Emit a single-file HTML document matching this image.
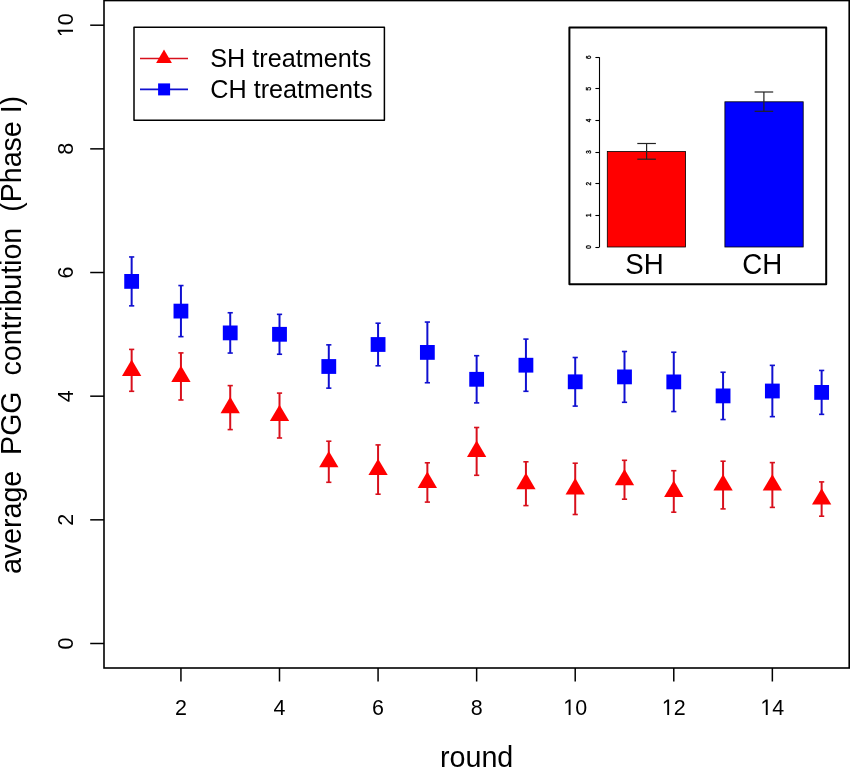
<!DOCTYPE html><html><head><meta charset="utf-8"><style>html,body{margin:0;padding:0;background:#fff;}svg{display:block;will-change:transform;}text{font-family:"Liberation Sans", sans-serif;fill:#000;}</style></head><body>
<svg width="850" height="767" viewBox="0 0 850 767">
<rect x="0" y="0" width="850" height="767" fill="#fff"/>
<rect x="104" y="0.55" width="745.2" height="667.45" fill="none" stroke="#000" stroke-width="1.6"/>
<line x1="90.2" y1="643.50" x2="104" y2="643.50" stroke="#000" stroke-width="1.5"/>
<g transform="translate(73.00 643.50) rotate(-90) scale(1 1.035)"><text x="-5.979" y="0" font-size="21.5">0</text></g>
<line x1="90.2" y1="519.84" x2="104" y2="519.84" stroke="#000" stroke-width="1.5"/>
<g transform="translate(73.00 519.84) rotate(-90) scale(1 1.035)"><text x="-5.979" y="0" font-size="21.5">2</text></g>
<line x1="90.2" y1="396.18" x2="104" y2="396.18" stroke="#000" stroke-width="1.5"/>
<g transform="translate(73.00 396.18) rotate(-90) scale(1 1.035)"><text x="-5.979" y="0" font-size="21.5">4</text></g>
<line x1="90.2" y1="272.52" x2="104" y2="272.52" stroke="#000" stroke-width="1.5"/>
<g transform="translate(73.00 272.52) rotate(-90) scale(1 1.035)"><text x="-5.979" y="0" font-size="21.5">6</text></g>
<line x1="90.2" y1="148.86" x2="104" y2="148.86" stroke="#000" stroke-width="1.5"/>
<g transform="translate(73.00 148.86) rotate(-90) scale(1 1.035)"><text x="-5.979" y="0" font-size="21.5">8</text></g>
<line x1="90.2" y1="25.20" x2="104" y2="25.20" stroke="#000" stroke-width="1.5"/>
<g transform="translate(73.00 25.20) rotate(-90) scale(1 1.035)"><path transform="translate(-11.957 0) scale(0.01050 -0.01050)" d="M515 0L515 1237L197 1010L197 1180L530 1409L696 1409L696 0Z" fill="#000"/><text x="0.000" y="0" font-size="21.5">0</text></g>
<line x1="180.94" y1="668" x2="180.94" y2="681.5" stroke="#000" stroke-width="1.5"/>
<g transform="translate(180.94 714.90) scale(1 1.035)"><text x="-5.979" y="0" font-size="21.5">2</text></g>
<line x1="279.50" y1="668" x2="279.50" y2="681.5" stroke="#000" stroke-width="1.5"/>
<g transform="translate(279.50 714.90) scale(1 1.035)"><text x="-5.979" y="0" font-size="21.5">4</text></g>
<line x1="378.07" y1="668" x2="378.07" y2="681.5" stroke="#000" stroke-width="1.5"/>
<g transform="translate(378.07 714.90) scale(1 1.035)"><text x="-5.979" y="0" font-size="21.5">6</text></g>
<line x1="476.64" y1="668" x2="476.64" y2="681.5" stroke="#000" stroke-width="1.5"/>
<g transform="translate(476.64 714.90) scale(1 1.035)"><text x="-5.979" y="0" font-size="21.5">8</text></g>
<line x1="575.21" y1="668" x2="575.21" y2="681.5" stroke="#000" stroke-width="1.5"/>
<g transform="translate(575.21 714.90) scale(1 1.035)"><path transform="translate(-11.957 0) scale(0.01050 -0.01050)" d="M515 0L515 1237L197 1010L197 1180L530 1409L696 1409L696 0Z" fill="#000"/><text x="0.000" y="0" font-size="21.5">0</text></g>
<line x1="673.78" y1="668" x2="673.78" y2="681.5" stroke="#000" stroke-width="1.5"/>
<g transform="translate(673.78 714.90) scale(1 1.035)"><path transform="translate(-11.957 0) scale(0.01050 -0.01050)" d="M515 0L515 1237L197 1010L197 1180L530 1409L696 1409L696 0Z" fill="#000"/><text x="0.000" y="0" font-size="21.5">2</text></g>
<line x1="772.35" y1="668" x2="772.35" y2="681.5" stroke="#000" stroke-width="1.5"/>
<g transform="translate(772.35 714.90) scale(1 1.035)"><path transform="translate(-11.957 0) scale(0.01050 -0.01050)" d="M515 0L515 1237L197 1010L197 1180L530 1409L696 1409L696 0Z" fill="#000"/><text x="0.000" y="0" font-size="21.5">4</text></g>
<text x="476.65" y="767.4" text-anchor="middle" font-size="28.7">round</text>
<text transform="translate(21.3 335.0) rotate(-90) scale(1 1.03)" text-anchor="middle" font-size="28.6" xml:space="preserve">average  PGG  contribution  (Phase I)</text>
<line x1="131.65" y1="256.95" x2="131.65" y2="305.85" stroke="#1010d0" stroke-width="2"/><line x1="129.05" y1="256.95" x2="134.25" y2="256.95" stroke="#1010d0" stroke-width="1.6"/><line x1="129.05" y1="305.85" x2="134.25" y2="305.85" stroke="#1010d0" stroke-width="1.6"/>
<rect x="124.25" y="274.00" width="14.8" height="14.8" fill="#0000ff"/>
<line x1="180.94" y1="285.55" x2="180.94" y2="336.65" stroke="#1010d0" stroke-width="2"/><line x1="178.34" y1="285.55" x2="183.53" y2="285.55" stroke="#1010d0" stroke-width="1.6"/><line x1="178.34" y1="336.65" x2="183.53" y2="336.65" stroke="#1010d0" stroke-width="1.6"/>
<rect x="173.53" y="303.70" width="14.8" height="14.8" fill="#0000ff"/>
<line x1="230.22" y1="312.75" x2="230.22" y2="353.05" stroke="#1010d0" stroke-width="2"/><line x1="227.62" y1="312.75" x2="232.82" y2="312.75" stroke="#1010d0" stroke-width="1.6"/><line x1="227.62" y1="353.05" x2="232.82" y2="353.05" stroke="#1010d0" stroke-width="1.6"/>
<rect x="222.82" y="325.50" width="14.8" height="14.8" fill="#0000ff"/>
<line x1="279.50" y1="314.35" x2="279.50" y2="354.25" stroke="#1010d0" stroke-width="2"/><line x1="276.90" y1="314.35" x2="282.11" y2="314.35" stroke="#1010d0" stroke-width="1.6"/><line x1="276.90" y1="354.25" x2="282.11" y2="354.25" stroke="#1010d0" stroke-width="1.6"/>
<rect x="272.11" y="326.90" width="14.8" height="14.8" fill="#0000ff"/>
<line x1="328.79" y1="344.85" x2="328.79" y2="388.15" stroke="#1010d0" stroke-width="2"/><line x1="326.19" y1="344.85" x2="331.39" y2="344.85" stroke="#1010d0" stroke-width="1.6"/><line x1="326.19" y1="388.15" x2="331.39" y2="388.15" stroke="#1010d0" stroke-width="1.6"/>
<rect x="321.39" y="359.10" width="14.8" height="14.8" fill="#0000ff"/>
<line x1="378.07" y1="323.20" x2="378.07" y2="365.80" stroke="#1010d0" stroke-width="2"/><line x1="375.47" y1="323.20" x2="380.68" y2="323.20" stroke="#1010d0" stroke-width="1.6"/><line x1="375.47" y1="365.80" x2="380.68" y2="365.80" stroke="#1010d0" stroke-width="1.6"/>
<rect x="370.68" y="337.10" width="14.8" height="14.8" fill="#0000ff"/>
<line x1="427.36" y1="322.05" x2="427.36" y2="382.75" stroke="#1010d0" stroke-width="2"/><line x1="424.76" y1="322.05" x2="429.96" y2="322.05" stroke="#1010d0" stroke-width="1.6"/><line x1="424.76" y1="382.75" x2="429.96" y2="382.75" stroke="#1010d0" stroke-width="1.6"/>
<rect x="419.96" y="345.00" width="14.8" height="14.8" fill="#0000ff"/>
<line x1="476.64" y1="355.70" x2="476.64" y2="402.90" stroke="#1010d0" stroke-width="2"/><line x1="474.04" y1="355.70" x2="479.25" y2="355.70" stroke="#1010d0" stroke-width="1.6"/><line x1="474.04" y1="402.90" x2="479.25" y2="402.90" stroke="#1010d0" stroke-width="1.6"/>
<rect x="469.25" y="371.90" width="14.8" height="14.8" fill="#0000ff"/>
<line x1="525.93" y1="339.10" x2="525.93" y2="391.30" stroke="#1010d0" stroke-width="2"/><line x1="523.33" y1="339.10" x2="528.53" y2="339.10" stroke="#1010d0" stroke-width="1.6"/><line x1="523.33" y1="391.30" x2="528.53" y2="391.30" stroke="#1010d0" stroke-width="1.6"/>
<rect x="518.53" y="357.80" width="14.8" height="14.8" fill="#0000ff"/>
<line x1="575.21" y1="357.50" x2="575.21" y2="406.10" stroke="#1010d0" stroke-width="2"/><line x1="572.61" y1="357.50" x2="577.81" y2="357.50" stroke="#1010d0" stroke-width="1.6"/><line x1="572.61" y1="406.10" x2="577.81" y2="406.10" stroke="#1010d0" stroke-width="1.6"/>
<rect x="567.81" y="374.40" width="14.8" height="14.8" fill="#0000ff"/>
<line x1="624.50" y1="351.50" x2="624.50" y2="402.30" stroke="#1010d0" stroke-width="2"/><line x1="621.90" y1="351.50" x2="627.10" y2="351.50" stroke="#1010d0" stroke-width="1.6"/><line x1="621.90" y1="402.30" x2="627.10" y2="402.30" stroke="#1010d0" stroke-width="1.6"/>
<rect x="617.10" y="369.50" width="14.8" height="14.8" fill="#0000ff"/>
<line x1="673.78" y1="352.25" x2="673.78" y2="411.55" stroke="#1010d0" stroke-width="2"/><line x1="671.18" y1="352.25" x2="676.38" y2="352.25" stroke="#1010d0" stroke-width="1.6"/><line x1="671.18" y1="411.55" x2="676.38" y2="411.55" stroke="#1010d0" stroke-width="1.6"/>
<rect x="666.38" y="374.50" width="14.8" height="14.8" fill="#0000ff"/>
<line x1="723.07" y1="372.25" x2="723.07" y2="419.55" stroke="#1010d0" stroke-width="2"/><line x1="720.47" y1="372.25" x2="725.67" y2="372.25" stroke="#1010d0" stroke-width="1.6"/><line x1="720.47" y1="419.55" x2="725.67" y2="419.55" stroke="#1010d0" stroke-width="1.6"/>
<rect x="715.67" y="388.50" width="14.8" height="14.8" fill="#0000ff"/>
<line x1="772.35" y1="365.35" x2="772.35" y2="416.65" stroke="#1010d0" stroke-width="2"/><line x1="769.75" y1="365.35" x2="774.95" y2="365.35" stroke="#1010d0" stroke-width="1.6"/><line x1="769.75" y1="416.65" x2="774.95" y2="416.65" stroke="#1010d0" stroke-width="1.6"/>
<rect x="764.95" y="383.60" width="14.8" height="14.8" fill="#0000ff"/>
<line x1="821.64" y1="370.45" x2="821.64" y2="414.35" stroke="#1010d0" stroke-width="2"/><line x1="819.04" y1="370.45" x2="824.24" y2="370.45" stroke="#1010d0" stroke-width="1.6"/><line x1="819.04" y1="414.35" x2="824.24" y2="414.35" stroke="#1010d0" stroke-width="1.6"/>
<rect x="814.24" y="385.00" width="14.8" height="14.8" fill="#0000ff"/>
<line x1="131.65" y1="349.40" x2="131.65" y2="391.30" stroke="#d8101c" stroke-width="2"/><line x1="129.05" y1="349.40" x2="134.25" y2="349.40" stroke="#d8101c" stroke-width="1.6"/><line x1="129.05" y1="391.30" x2="134.25" y2="391.30" stroke="#d8101c" stroke-width="1.6"/>
<polygon points="131.65,359.48 141.30,375.88 122.00,375.88" fill="#ff0000"/>
<line x1="180.94" y1="352.90" x2="180.94" y2="400.00" stroke="#d8101c" stroke-width="2"/><line x1="178.34" y1="352.90" x2="183.53" y2="352.90" stroke="#d8101c" stroke-width="1.6"/><line x1="178.34" y1="400.00" x2="183.53" y2="400.00" stroke="#d8101c" stroke-width="1.6"/>
<polygon points="180.94,365.58 190.59,381.98 171.28,381.98" fill="#ff0000"/>
<line x1="230.22" y1="385.60" x2="230.22" y2="429.60" stroke="#d8101c" stroke-width="2"/><line x1="227.62" y1="385.60" x2="232.82" y2="385.60" stroke="#d8101c" stroke-width="1.6"/><line x1="227.62" y1="429.60" x2="232.82" y2="429.60" stroke="#d8101c" stroke-width="1.6"/>
<polygon points="230.22,396.73 239.87,413.13 220.57,413.13" fill="#ff0000"/>
<line x1="279.50" y1="393.10" x2="279.50" y2="438.00" stroke="#d8101c" stroke-width="2"/><line x1="276.90" y1="393.10" x2="282.11" y2="393.10" stroke="#d8101c" stroke-width="1.6"/><line x1="276.90" y1="438.00" x2="282.11" y2="438.00" stroke="#d8101c" stroke-width="1.6"/>
<polygon points="279.50,404.68 289.15,421.08 269.86,421.08" fill="#ff0000"/>
<line x1="328.79" y1="441.20" x2="328.79" y2="482.30" stroke="#d8101c" stroke-width="2"/><line x1="326.19" y1="441.20" x2="331.39" y2="441.20" stroke="#d8101c" stroke-width="1.6"/><line x1="326.19" y1="482.30" x2="331.39" y2="482.30" stroke="#d8101c" stroke-width="1.6"/>
<polygon points="328.79,450.88 338.44,467.28 319.14,467.28" fill="#ff0000"/>
<line x1="378.07" y1="444.90" x2="378.07" y2="494.20" stroke="#d8101c" stroke-width="2"/><line x1="375.47" y1="444.90" x2="380.68" y2="444.90" stroke="#d8101c" stroke-width="1.6"/><line x1="375.47" y1="494.20" x2="380.68" y2="494.20" stroke="#d8101c" stroke-width="1.6"/>
<polygon points="378.07,458.68 387.72,475.08 368.43,475.08" fill="#ff0000"/>
<line x1="427.36" y1="462.80" x2="427.36" y2="502.10" stroke="#d8101c" stroke-width="2"/><line x1="424.76" y1="462.80" x2="429.96" y2="462.80" stroke="#d8101c" stroke-width="1.6"/><line x1="424.76" y1="502.10" x2="429.96" y2="502.10" stroke="#d8101c" stroke-width="1.6"/>
<polygon points="427.36,471.58 437.01,487.98 417.71,487.98" fill="#ff0000"/>
<line x1="476.64" y1="427.50" x2="476.64" y2="475.30" stroke="#d8101c" stroke-width="2"/><line x1="474.04" y1="427.50" x2="479.25" y2="427.50" stroke="#d8101c" stroke-width="1.6"/><line x1="474.04" y1="475.30" x2="479.25" y2="475.30" stroke="#d8101c" stroke-width="1.6"/>
<polygon points="476.64,440.53 486.29,456.93 467.00,456.93" fill="#ff0000"/>
<line x1="525.93" y1="461.80" x2="525.93" y2="505.60" stroke="#d8101c" stroke-width="2"/><line x1="523.33" y1="461.80" x2="528.53" y2="461.80" stroke="#d8101c" stroke-width="1.6"/><line x1="523.33" y1="505.60" x2="528.53" y2="505.60" stroke="#d8101c" stroke-width="1.6"/>
<polygon points="525.93,472.83 535.58,489.23 516.28,489.23" fill="#ff0000"/>
<line x1="575.21" y1="463.20" x2="575.21" y2="514.50" stroke="#d8101c" stroke-width="2"/><line x1="572.61" y1="463.20" x2="577.81" y2="463.20" stroke="#d8101c" stroke-width="1.6"/><line x1="572.61" y1="514.50" x2="577.81" y2="514.50" stroke="#d8101c" stroke-width="1.6"/>
<polygon points="575.21,477.98 584.86,494.38 565.56,494.38" fill="#ff0000"/>
<line x1="624.50" y1="460.30" x2="624.50" y2="499.20" stroke="#d8101c" stroke-width="2"/><line x1="621.90" y1="460.30" x2="627.10" y2="460.30" stroke="#d8101c" stroke-width="1.6"/><line x1="621.90" y1="499.20" x2="627.10" y2="499.20" stroke="#d8101c" stroke-width="1.6"/>
<polygon points="624.50,468.88 634.15,485.28 614.85,485.28" fill="#ff0000"/>
<line x1="673.78" y1="470.70" x2="673.78" y2="512.20" stroke="#d8101c" stroke-width="2"/><line x1="671.18" y1="470.70" x2="676.38" y2="470.70" stroke="#d8101c" stroke-width="1.6"/><line x1="671.18" y1="512.20" x2="676.38" y2="512.20" stroke="#d8101c" stroke-width="1.6"/>
<polygon points="673.78,480.58 683.43,496.98 664.13,496.98" fill="#ff0000"/>
<line x1="723.07" y1="461.20" x2="723.07" y2="508.90" stroke="#d8101c" stroke-width="2"/><line x1="720.47" y1="461.20" x2="725.67" y2="461.20" stroke="#d8101c" stroke-width="1.6"/><line x1="720.47" y1="508.90" x2="725.67" y2="508.90" stroke="#d8101c" stroke-width="1.6"/>
<polygon points="723.07,474.18 732.72,490.58 713.42,490.58" fill="#ff0000"/>
<line x1="772.35" y1="462.60" x2="772.35" y2="507.40" stroke="#d8101c" stroke-width="2"/><line x1="769.75" y1="462.60" x2="774.95" y2="462.60" stroke="#d8101c" stroke-width="1.6"/><line x1="769.75" y1="507.40" x2="774.95" y2="507.40" stroke="#d8101c" stroke-width="1.6"/>
<polygon points="772.35,474.13 782.00,490.53 762.70,490.53" fill="#ff0000"/>
<line x1="821.64" y1="481.90" x2="821.64" y2="516.20" stroke="#d8101c" stroke-width="2"/><line x1="819.04" y1="481.90" x2="824.24" y2="481.90" stroke="#d8101c" stroke-width="1.6"/><line x1="819.04" y1="516.20" x2="824.24" y2="516.20" stroke="#d8101c" stroke-width="1.6"/>
<polygon points="821.64,488.18 831.29,504.58 811.99,504.58" fill="#ff0000"/>
<rect x="134" y="27.3" width="250.4" height="93.0" fill="#fff" stroke="#000" stroke-width="1.5" stroke-linejoin="round"/>
<line x1="140" y1="58.5" x2="188" y2="58.5" stroke="#d8101c" stroke-width="1.6"/>
<polygon points="164.00,49.38 171.90,62.98 156.10,62.98" fill="#ff0000"/>
<line x1="140" y1="89.4" x2="188" y2="89.4" stroke="#1010d0" stroke-width="1.6"/>
<rect x="158.10" y="83.40" width="12" height="12" fill="#0000ff"/>
<text transform="translate(210.3 66.9) scale(1 1.055)" font-size="25.2">SH treatments</text>
<text transform="translate(210.3 98.1) scale(1 1.055)" font-size="25.2">CH treatments</text>
<rect x="569.4" y="27.6" width="256.8" height="256.6" fill="#fff" stroke="#000" stroke-width="2" stroke-linejoin="round"/>
<line x1="599.5" y1="247.00" x2="599.5" y2="57.22" stroke="#000" stroke-width="1.1"/>
<line x1="595.4" y1="247.50" x2="599.5" y2="247.50" stroke="#000" stroke-width="1.1"/>
<text transform="translate(590.8 247.00) rotate(-90)" text-anchor="middle" font-size="6.3" stroke="#000" stroke-width="0.35">0</text>
<line x1="595.4" y1="215.50" x2="599.5" y2="215.50" stroke="#000" stroke-width="1.1"/>
<text transform="translate(590.8 215.37) rotate(-90)" text-anchor="middle" font-size="6.3" stroke="#000" stroke-width="0.35">1</text>
<line x1="595.4" y1="183.50" x2="599.5" y2="183.50" stroke="#000" stroke-width="1.1"/>
<text transform="translate(590.8 183.74) rotate(-90)" text-anchor="middle" font-size="6.3" stroke="#000" stroke-width="0.35">2</text>
<line x1="595.4" y1="152.50" x2="599.5" y2="152.50" stroke="#000" stroke-width="1.1"/>
<text transform="translate(590.8 152.11) rotate(-90)" text-anchor="middle" font-size="6.3" stroke="#000" stroke-width="0.35">3</text>
<line x1="595.4" y1="120.50" x2="599.5" y2="120.50" stroke="#000" stroke-width="1.1"/>
<text transform="translate(590.8 120.48) rotate(-90)" text-anchor="middle" font-size="6.3" stroke="#000" stroke-width="0.35">4</text>
<line x1="595.4" y1="88.50" x2="599.5" y2="88.50" stroke="#000" stroke-width="1.1"/>
<text transform="translate(590.8 88.85) rotate(-90)" text-anchor="middle" font-size="6.3" stroke="#000" stroke-width="0.35">5</text>
<line x1="595.4" y1="57.50" x2="599.5" y2="57.50" stroke="#000" stroke-width="1.1"/>
<text transform="translate(590.8 57.22) rotate(-90)" text-anchor="middle" font-size="6.3" stroke="#000" stroke-width="0.35">6</text>
<rect x="607.3" y="151.5" width="78.3" height="95.50" fill="#ff0000" stroke="#000" stroke-width="0.8"/>
<rect x="724.9" y="101.8" width="78.3" height="145.20" fill="#0000ff" stroke="#000" stroke-width="0.8"/>
<line x1="646.6" y1="143.5" x2="646.6" y2="159.2" stroke="#222" stroke-width="1.2"/><line x1="637.3000000000001" y1="143.5" x2="655.9" y2="143.5" stroke="#222" stroke-width="1.2"/><line x1="637.3000000000001" y1="159.2" x2="655.9" y2="159.2" stroke="#222" stroke-width="1.2"/>
<line x1="763.9" y1="92.0" x2="763.9" y2="111.3" stroke="#222" stroke-width="1.2"/><line x1="754.6" y1="92.0" x2="773.1999999999999" y2="92.0" stroke="#222" stroke-width="1.2"/><line x1="754.6" y1="111.3" x2="773.1999999999999" y2="111.3" stroke="#222" stroke-width="1.2"/>
<text transform="translate(644.5 273.9) scale(1 1.048)" text-anchor="middle" font-size="27.7">SH</text>
<text transform="translate(762.2 274.1) scale(1 1.048)" text-anchor="middle" font-size="27.7">CH</text>
</svg></body></html>
